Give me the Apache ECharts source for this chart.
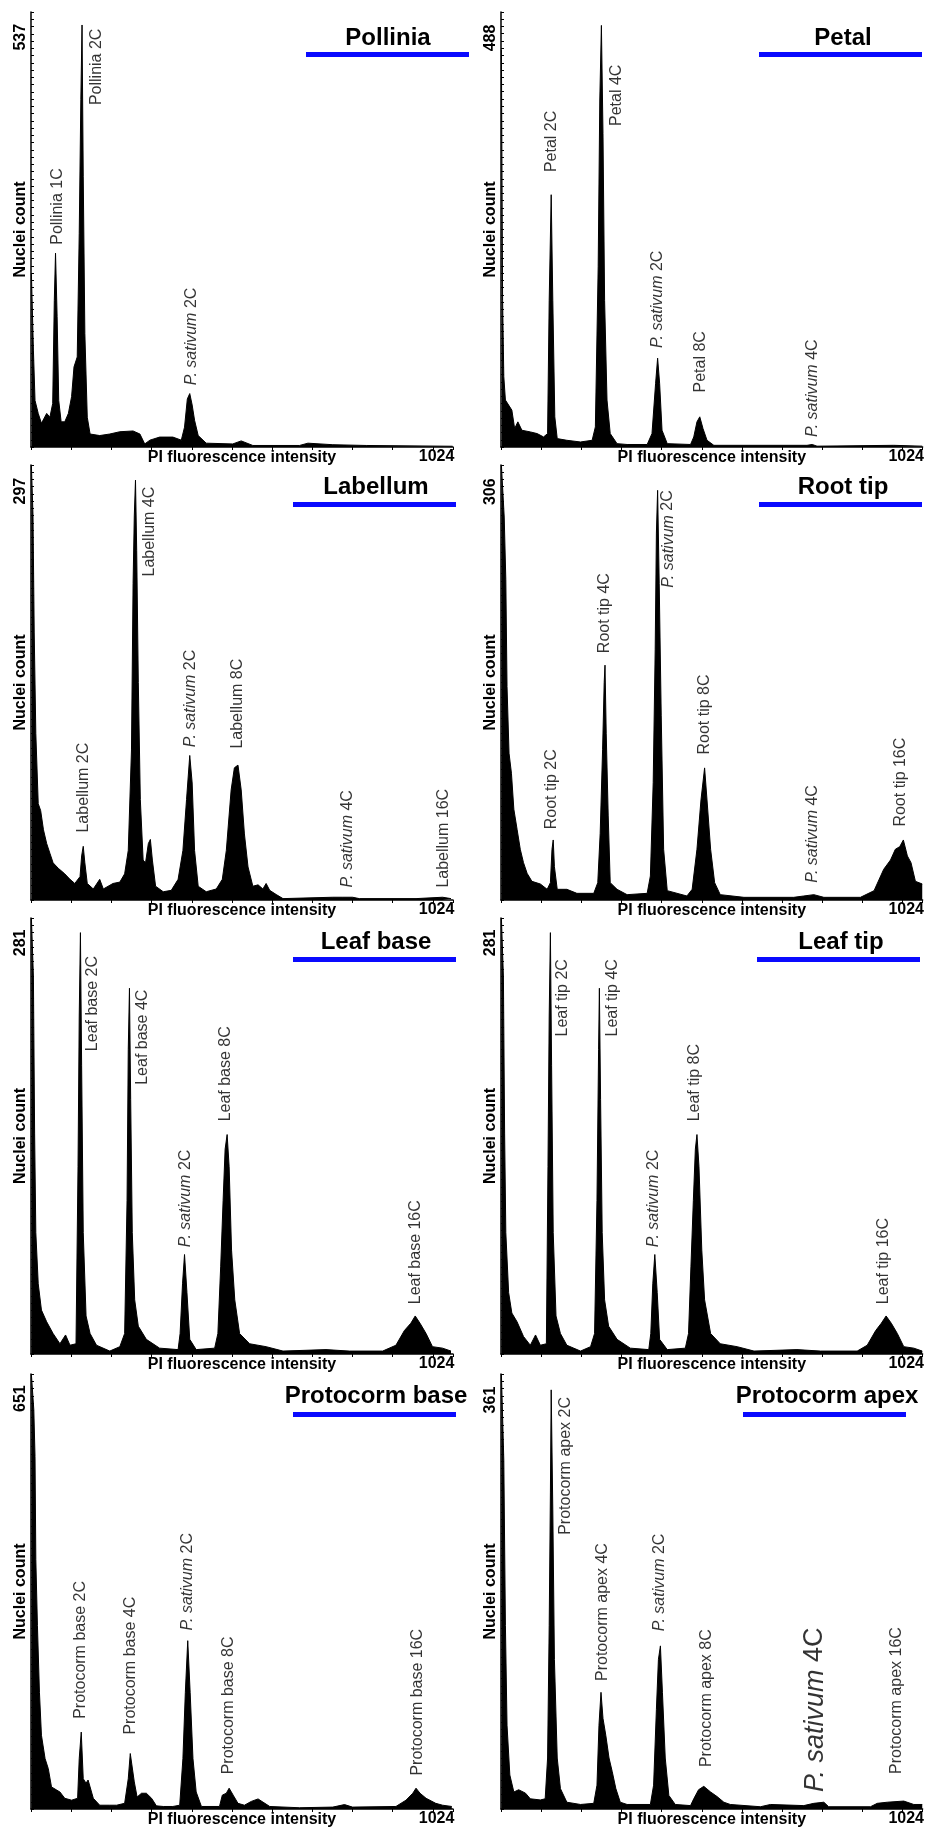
<!DOCTYPE html>
<html>
<head>
<meta charset="utf-8">
<title>Flow cytometry histograms</title>
<script src="https://cdn.jsdelivr.net/npm/echarts@6/dist/echarts.min.js"></script>
<style>
  html, body { margin: 0; padding: 0; background: #fff; }
  #chart { width: 927px; height: 1829px; }
</style>
</head>
<body>
<div id="chart"></div>
<script>
// histogram outlines: [channel, nuclei count]
const pollinia = [[1,227],[2,227],[6,127],[10,61],[18,44],[26,31],[39,44],[47,39],[54,57],[58,192],[61,254],[65,171],[69,61],[75,33],[84,33],[93,44],[101,66],[107,105],[115,118],[120,280],[124,455],[127,553],[130,354],[134,149],[140,39],[147,17],[171,15],[196,17],[221,20],[254,21],[271,17],[283,4],[296,9],[320,13],[353,13],[374,9],[382,26],[389,63],[395,70],[401,55],[407,35],[416,15],[436,5],[502,4],[523,8],[552,2],[668,2],[689,5],[751,3],[834,2],[1049,1]]
const petal = [[1,474],[2,474],[4,175],[7,84],[11,56],[19,50],[27,44],[34,22],[42,30],[52,20],[73,18],[90,16],[106,12],[116,16],[120,175],[125,301],[129,175],[134,36],[140,10],[164,8],[198,6],[227,8],[235,24],[242,215],[246,414],[250,503],[254,374],[258,175],[264,56],[272,16],[289,4],[314,3],[364,3],[376,16],[385,76],[390,106],[395,76],[401,20],[414,4],[472,3],[480,12],[488,30],[495,36],[503,22],[513,8],[530,2],[762,2],[775,3],[787,1],[978,2],[1049,1]]
const labellum = [[1,316],[2,316],[5,279],[8,194],[12,121],[18,70],[24,65],[31,51],[39,41],[47,34],[55,27],[68,23],[84,19],[97,15],[109,12],[122,17],[126,32],[130,39],[134,27],[140,12],[155,8],[171,15],[180,8],[204,12],[221,13],[233,19],[242,36],[250,109],[254,230],[257,279],[260,305],[263,254],[267,158],[272,73],[279,29],[285,27],[292,41],[297,44],[302,29],[310,10],[329,6],[349,7],[366,15],[378,36],[387,73],[395,105],[401,85],[407,36],[416,10],[436,6],[461,8],[476,15],[486,36],[498,80],[506,96],[515,98],[523,80],[531,48],[540,24],[552,10],[565,11],[577,8],[585,12],[594,7],[610,4],[627,1],[751,2],[776,2],[800,2],[817,1],[958,1],[1024,2],[1045,1]]
const rootTip = [[1,326],[5,326],[8,287],[12,240],[15,160],[20,110],[26,95],[32,68],[40,53],[48,38],[56,28],[65,20],[77,14],[98,12],[115,8],[123,13],[127,38],[130,45],[133,25],[140,8],[164,8],[189,5],[231,5],[241,13],[247,50],[253,113],[257,163],[259,176],[262,125],[267,63],[272,13],[289,8],[314,4],[364,5],[372,18],[379,88],[384,188],[387,275],[390,307],[394,237],[399,138],[405,38],[414,7],[463,3],[476,8],[488,38],[498,75],[507,99],[513,75],[522,38],[532,13],[546,4],[605,2],[729,2],[754,3],[779,4],[804,2],[895,2],[929,7],[953,23],[970,30],[982,38],[993,40],[1002,45],[1012,33],[1021,28],[1032,14],[1049,12]]
const leafBase = [[1,298],[3,298],[6,258],[9,151],[12,83],[18,48],[26,30],[39,22],[55,14],[72,7],[86,13],[97,6],[112,7],[117,128],[120,231],[123,288],[126,197],[130,83],[137,26],[147,14],[163,6],[196,2],[221,5],[233,14],[239,105],[242,208],[245,250],[248,174],[252,83],[258,37],[267,19],[287,10],[320,4],[366,3],[371,14],[377,48],[382,68],[388,42],[395,10],[411,3],[457,4],[465,14],[472,60],[478,105],[483,140],[488,150],[493,128],[499,71],[507,37],[519,14],[544,7],[585,5],[627,2],[734,3],[792,2],[875,2],[908,6],[929,16],[945,21],[956,26],[968,21],[983,14],[999,5],[1024,4],[1045,2]]
const leafTip = [[1,298],[3,298],[6,258],[9,151],[12,83],[19,42],[27,28],[40,22],[56,12],[73,6],[86,13],[98,6],[113,7],[117,128],[120,231],[123,288],[126,197],[130,83],[137,26],[148,14],[164,6],[198,2],[223,5],[233,14],[239,105],[243,208],[245,250],[248,174],[252,83],[258,37],[268,19],[289,10],[322,4],[368,3],[373,14],[378,48],[383,68],[389,42],[395,10],[414,3],[459,4],[467,14],[473,60],[479,105],[484,140],[488,150],[493,128],[500,71],[507,37],[522,14],[546,7],[588,5],[630,2],[737,3],[796,2],[887,2],[912,6],[933,16],[947,21],[959,26],[972,21],[987,14],[1003,5],[1028,4],[1049,2]]
const protocormBase = [[1,689],[4,689],[7,633],[10,559],[12,396],[16,291],[21,185],[26,117],[35,80],[43,64],[51,35],[64,30],[72,27],[84,17],[101,14],[116,17],[120,80],[125,122],[130,48],[137,41],[142,46],[147,35],[155,17],[171,6],[196,6],[213,6],[233,9],[242,48],[247,88],[251,91],[257,43],[264,19],[275,25],[287,25],[300,17],[312,5],[329,4],[353,4],[370,6],[378,80],[384,185],[390,267],[396,185],[403,80],[411,27],[424,4],[469,4],[476,22],[486,25],[493,33],[503,22],[515,9],[531,6],[548,12],[565,16],[577,11],[594,4],[668,2],[751,3],[780,7],[800,3],[908,4],[933,14],[950,25],[958,33],[968,25],[983,17],[1007,9],[1024,6],[1047,4]]
const protocormApex = [[1,384],[3,384],[7,308],[11,162],[15,74],[22,30],[32,15],[44,17],[61,14],[73,9],[98,8],[110,9],[116,45],[120,162],[123,279],[125,370],[129,264],[133,132],[140,45],[148,18],[164,6],[198,4],[231,5],[239,21],[244,74],[249,103],[254,80],[261,65],[269,45],[277,33],[286,18],[297,6],[314,4],[372,4],[380,21],[387,88],[392,132],[397,144],[402,103],[409,45],[418,12],[434,4],[472,3],[480,9],[492,17],[505,20],[522,15],[538,11],[555,6],[571,4],[646,2],[671,4],[754,3],[779,5],[804,6],[816,2],[920,2],[937,5],[962,6],[1003,7],[1028,4],[1049,4]]

// peak names, anchored at [channel, count] where the text starts
const polliniaLabels = [['Pollinia 1C', 65, 265], ['Pollinia 2C', 164, 448], ['P. sativum 2C', 400, 81]]
const petalLabels = [['Petal 2C', 125, 328], ['Petal 4C', 289, 383], ['P. sativum 2C', 391, 118], ['Petal 8C', 498, 65], ['P. sativum 4C', 777, 12]]
const labellumLabels = [['Labellum 2C', 132, 49], ['Labellum 4C', 296, 235], ['P. sativum 2C', 398, 111], ['Labellum 8C', 514, 110], ['P. sativum 4C', 788, 9], ['Labellum 16C', 1026, 9]]
const rootTipLabels = [['Root tip 2C', 127, 53], ['Root tip 4C', 257, 185], ['P. sativum 2C', 416, 234], ['Root tip 8C', 506, 109], ['P. sativum 4C', 777, 13], ['Root tip 16C', 996, 55]]
const leafBaseLabels = [['Leaf base 2C', 154, 207], ['Leaf base 4C', 278, 184], ['P. sativum 2C', 385, 73], ['Leaf base 8C', 485, 159], ['Leaf base 16C', 957, 34]]
const leafTipLabels = [['Leaf tip 2C', 154, 217], ['Leaf tip 4C', 277, 217], ['P. sativum 2C', 381, 73], ['Leaf tip 8C', 483, 159], ['Leaf tip 16C', 954, 34]]
const protocormBaseLabels = [['Protocorm base 2C', 124, 143], ['Protocorm base 4C', 249, 118], ['P. sativum 2C', 390, 283], ['Protocorm base 8C', 492, 55], ['Protocorm base 16C', 962, 53]]
const protocormApexLabels = [['Protocorm apex 2C', 162, 242], ['Protocorm apex 4C', 252, 113], ['P. sativum 2C', 396, 157], ['Protocorm apex 8C', 513, 37], ['Protocorm apex 16C', 984, 31]]
// printed much larger than the rest in the protocorm apex panel
const protocormApexBigLabels = [['P. sativum 4C', 782, 15]]

// the count printed at the top of each y axis
const topCounts = [537, 488, 297, 306, 281, 281, 651, 361]
const xTickLabels = [1024]

const font = 'Liberation Sans, Arial, sans-serif'

const panels = [
  { title: 'Pollinia', data: pollinia, labels: polliniaLabels, left: 31, top: 12, height: 435, yMax: 570, titleX: 388, titleY: 38, barX: 306, barY: 52 },
  { title: 'Petal', data: petal, labels: petalLabels, left: 501, top: 12, height: 435, yMax: 519, titleX: 843, titleY: 38, barX: 759, barY: 52 },
  { title: 'Labellum', data: labellum, labels: labellumLabels, left: 31, top: 465, height: 435, yMax: 316, titleX: 376, titleY: 487, barX: 293, barY: 502 },
  { title: 'Root tip', data: rootTip, labels: rootTipLabels, left: 501, top: 465, height: 435, yMax: 326, titleX: 843, titleY: 487, barX: 759, barY: 502 },
  { title: 'Leaf base', data: leafBase, labels: leafBaseLabels, left: 31, top: 918, height: 436, yMax: 298, titleX: 376, titleY: 942, barX: 293, barY: 957 },
  { title: 'Leaf tip', data: leafTip, labels: leafTipLabels, left: 501, top: 918, height: 436, yMax: 298, titleX: 841, titleY: 942, barX: 757, barY: 957 },
  { title: 'Protocorm base', data: protocormBase, labels: protocormBaseLabels, left: 31, top: 1374, height: 437, yMax: 690, titleX: 376, titleY: 1396, barX: 293, barY: 1412 },
  { title: 'Protocorm apex', data: protocormApex, labels: protocormApexLabels, bigLabels: protocormApexBigLabels, left: 501, top: 1374, height: 437, yMax: 384, titleX: 827, titleY: 1396, barX: 743, barY: 1412 }
]

const boldText = { color: '#000', fontFamily: font, fontSize: 16, fontWeight: 'bold' }

function peakLabel(params) {
  let name = params.name
  if (name.indexOf('P. sativum') === 0) {
    return '{i|P. sativum}' + name.slice(10)
  }
  return name
}

function labelSeries(i, labels, size) {
  return {
    type: 'scatter',
    xAxisIndex: i,
    yAxisIndex: i,
    symbolSize: 1,
    itemStyle: { color: 'rgba(0,0,0,0)' },
    silent: true,
    z: 5,
    data: labels.map(l => ({ name: l[0], value: [l[1], l[2]] })),
    label: {
      show: true,
      position: 'inside',
      rotate: 90,
      align: 'left',
      verticalAlign: 'middle',
      color: '#000',
      fontFamily: font,
      fontSize: size,
      formatter: peakLabel,
      rich: {
        i: { fontStyle: 'italic', fontFamily: font, fontSize: size, color: '#000' }
      }
    }
  }
}

let chart = echarts.init(document.getElementById('chart'), null, { renderer: 'canvas' })

let grid = [], xAxis = [], yAxis = [], series = [], graphic = []

panels.forEach((p, i) => {
  grid.push({ left: p.left, top: p.top, width: 422, height: p.height })

  xAxis.push({
    gridIndex: i,
    type: 'value',
    min: 0,
    max: 1050,
    interval: 100,
    axisLine: { lineStyle: { color: '#000', width: 1.5 } },
    axisTick: { length: 3, lineStyle: { color: '#000' } },
    splitLine: { show: false },
    axisLabel: Object.assign({
      customValues: xTickLabels,
      margin: 2,
      padding: [0, 12, 0, 0],
      formatter: v => String(v)
    }, boldText),
    name: 'PI fluorescence intensity',
    nameLocation: 'middle',
    nameGap: 3,
    nameMoveOverlap: false,
    nameTextStyle: boldText
  })

  yAxis.push({
    gridIndex: i,
    type: 'value',
    min: 0,
    max: p.yMax,
    interval: p.yMax / 60,
    axisLine: { show: true, lineStyle: { color: '#000', width: 1.5 } },
    axisTick: { show: true, inside: true, length: 3, lineStyle: { color: '#000' } },
    splitLine: { show: false },
    axisLabel: Object.assign({
      customValues: [topCounts[i]],
      rotate: 90,
      margin: 2,
      formatter: v => String(v)
    }, boldText),
    name: 'Nuclei count',
    nameLocation: 'middle',
    nameRotate: 90,
    nameGap: 2,
    nameMoveOverlap: false,
    nameTextStyle: boldText
  })

  series.push({
    type: 'line',
    xAxisIndex: i,
    yAxisIndex: i,
    data: p.data,
    symbol: 'none',
    lineStyle: { color: '#000', width: 1 },
    areaStyle: { color: '#000', opacity: 1 },
    silent: true
  })

  series.push(labelSeries(i, p.labels, 16))
  if (p.bigLabels) {
    series.push(labelSeries(i, p.bigLabels, 27))
  }

  graphic.push({
    type: 'text',
    x: p.titleX,
    y: p.titleY,
    style: {
      text: p.title,
      fill: '#000',
      fontFamily: font,
      fontSize: 24,
      fontWeight: 'bold',
      align: 'center',
      verticalAlign: 'middle'
    }
  })
  graphic.push({
    type: 'rect',
    shape: { x: p.barX, y: p.barY, width: 163, height: 5 },
    style: { fill: '#0a0aff' }
  })
})

chart.setOption({
  backgroundColor: '#fff',
  animation: false,
  grid: grid,
  xAxis: xAxis,
  yAxis: yAxis,
  series: series,
  graphic: graphic
})
</script>
</body>
</html>
